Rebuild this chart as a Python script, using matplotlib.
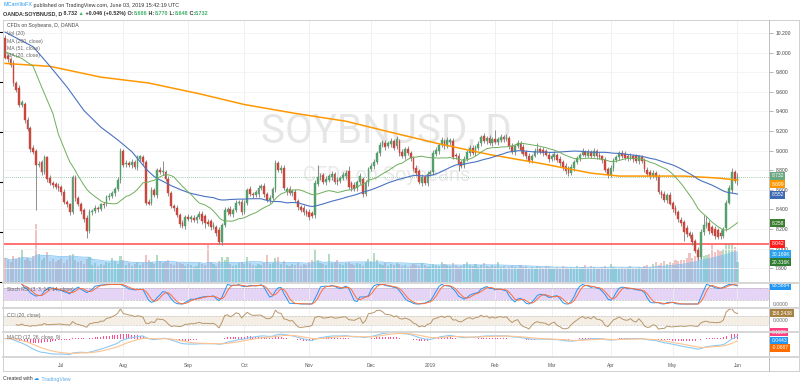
import matplotlib
matplotlib.use("Agg")
import matplotlib.pyplot as plt
import matplotlib.transforms as mtransforms
from matplotlib.lines import Line2D
import numpy as np
import pandas as pd

plt.rcParams['font.family'] = ['Liberation Sans', 'DejaVu Sans']

W, H = 800, 386

# daily candles, OANDA:SOYBNUSD, 2018-06-04 .. 2019-06-03
opens = [
    10.15, 9.97, 9.94, 9.89, 9.69, 9.64, 9.47, 9.48, 9.31, 9.23,
    9.03, 9.00, 8.85, 8.88, 8.78, 8.93, 8.72, 8.67, 8.66, 8.64,
    8.63, 8.58, 8.48, 8.45, 8.37, 8.72, 8.52, 8.45, 8.39, 8.31,
    8.18, 8.37, 8.38, 8.41, 8.40, 8.45, 8.45, 8.53, 8.54, 8.57,
    8.61, 8.70, 9.00, 8.86, 8.87, 8.85, 8.88, 8.83, 8.91, 8.93,
    8.88, 8.48, 8.47, 8.60, 8.55, 8.80, 8.78, 8.78, 8.71, 8.57,
    8.43, 8.41, 8.34, 8.26, 8.23, 8.32, 8.30, 8.31, 8.29, 8.32,
    8.35, 8.33, 8.27, 8.28, 8.22, 8.22, 8.19, 8.07, 8.24, 8.37,
    8.40, 8.35, 8.39, 8.47, 8.48, 8.37, 8.47, 8.61, 8.56, 8.55,
    8.56, 8.62, 8.64, 8.56, 8.50, 8.52, 8.61, 8.87, 8.80, 8.82,
    8.58, 8.61, 8.57, 8.58, 8.49, 8.42, 8.41, 8.38, 8.37, 8.36,
    8.34, 8.66, 8.73, 8.75, 8.68, 8.70, 8.73, 8.76, 8.70, 8.69,
    8.72, 8.74, 8.79, 8.67, 8.65, 8.62, 8.68, 8.71, 8.56, 8.67,
    8.81, 8.84, 8.88, 8.98, 9.06, 9.08, 9.05, 9.07, 9.10, 9.05,
    9.10, 8.99, 8.94, 9.02, 8.98, 8.92, 8.82, 8.79, 8.67, 8.73,
    8.67, 8.76, 8.78, 8.97, 9.00, 9.06, 9.10, 9.05, 9.09, 9.10,
    8.96, 8.95, 8.88, 8.85, 8.91, 8.98, 9.03, 8.98, 9.03, 9.08,
    9.15, 9.10, 9.13, 9.08, 9.12, 9.09, 9.11, 9.14, 9.12, 9.13,
    9.05, 8.99, 9.05, 9.08, 9.04, 8.99, 8.95, 8.90, 8.95, 9.00,
    9.02, 9.01, 9.00, 8.96, 8.91, 8.93, 8.96, 8.91, 8.88, 8.84,
    8.82, 8.77, 8.82, 8.88, 8.92, 8.96, 8.99, 8.95, 8.99, 8.95,
    9.00, 8.96, 8.94, 8.90, 8.81, 8.75, 8.82, 8.90, 8.93, 8.98,
    8.97, 8.95, 8.92, 8.95, 8.94, 8.89, 8.93, 8.90, 8.80, 8.78,
    8.74, 8.77, 8.73, 8.58, 8.56, 8.50, 8.55, 8.47, 8.41, 8.37,
    8.29, 8.27, 8.21, 8.16, 8.14, 8.08, 7.99, 7.91, 8.17, 8.23,
    8.26, 8.22, 8.20, 8.19, 8.16, 8.13, 8.21, 8.47, 8.60, 8.78,
    8.686,
]
closes = [
    9.95, 9.93, 9.87, 9.69, 9.62, 9.47, 9.50, 9.31, 9.22, 9.02,
    8.99, 8.85, 8.86, 8.78, 8.93, 8.71, 8.67, 8.65, 8.63, 8.62,
    8.58, 8.48, 8.45, 8.37, 8.73, 8.52, 8.45, 8.38, 8.30, 8.18,
    8.37, 8.38, 8.41, 8.40, 8.45, 8.44, 8.53, 8.54, 8.57, 8.61,
    8.70, 9.00, 8.85, 8.87, 8.85, 8.88, 8.83, 8.93, 8.94, 8.88,
    8.47, 8.46, 8.60, 8.55, 8.80, 8.78, 8.79, 8.71, 8.57, 8.43,
    8.41, 8.34, 8.25, 8.23, 8.32, 8.30, 8.32, 8.29, 8.32, 8.35,
    8.28, 8.26, 8.25, 8.22, 8.24, 8.16, 8.07, 8.24, 8.39, 8.40,
    8.35, 8.39, 8.47, 8.48, 8.37, 8.47, 8.60, 8.56, 8.55, 8.58,
    8.62, 8.64, 8.56, 8.50, 8.52, 8.61, 8.87, 8.80, 8.82, 8.62,
    8.61, 8.57, 8.59, 8.50, 8.42, 8.39, 8.37, 8.35, 8.32, 8.33,
    8.67, 8.73, 8.74, 8.68, 8.71, 8.74, 8.76, 8.68, 8.68, 8.72,
    8.75, 8.77, 8.63, 8.62, 8.61, 8.68, 8.74, 8.56, 8.67, 8.81,
    8.84, 8.88, 8.98, 9.06, 9.09, 9.04, 9.08, 9.10, 9.03, 9.12,
    8.98, 8.94, 9.02, 8.98, 8.92, 8.81, 8.77, 8.68, 8.73, 8.67,
    8.76, 8.78, 8.98, 9.01, 9.06, 9.11, 9.05, 9.11, 9.11, 8.93,
    8.94, 8.86, 8.84, 8.91, 8.99, 9.03, 8.98, 9.04, 9.07, 9.14,
    9.10, 9.13, 9.08, 9.12, 9.09, 9.12, 9.14, 9.12, 9.14, 9.05,
    8.99, 9.05, 9.08, 9.01, 8.97, 8.94, 8.89, 8.95, 9.00, 9.02,
    8.99, 8.98, 8.96, 8.91, 8.95, 8.97, 8.90, 8.87, 8.82, 8.79,
    8.77, 8.83, 8.88, 8.92, 8.96, 9.00, 8.96, 8.99, 8.95, 9.00,
    8.94, 8.93, 8.90, 8.80, 8.75, 8.82, 8.90, 8.93, 8.98, 8.94,
    8.92, 8.92, 8.95, 8.91, 8.89, 8.94, 8.89, 8.81, 8.76, 8.74,
    8.77, 8.73, 8.58, 8.55, 8.50, 8.55, 8.46, 8.40, 8.36, 8.30,
    8.26, 8.17, 8.15, 8.13, 8.07, 7.98, 7.91, 8.17, 8.24, 8.27,
    8.18, 8.16, 8.13, 8.12, 8.13, 8.20, 8.47, 8.62, 8.78, 8.686,
    8.732,
]
# wick length above / below the body, in cents
wick_up = [
    3, 2, 2, 3, 2, 3, 2, 2, 3, 2, 3, 2, 3, 2, 3, 2, 3, 2, 2, 3,
    2, 3, 2, 2, 2, 3, 2, 3, 2, 3, 3, 2, 3, 2, 2, 3, 2, 3, 2, 2,
    3, 3, 2, 3, 2, 3, 2, 3, 2, 3, 2, 3, 3, 2, 2, 3, 10, 2, 3, 2,
    2, 3, 2, 3, 2, 3, 2, 3, 2, 3, 3, 2, 3, 2, 3, 2, 3, 2, 3, 2,
    3, 2, 3, 2, 3, 3, 2, 3, 2, 2, 3, 2, 3, 2, 3, 2, 3, 2, 3, 3,
    2, 3, 2, 3, 2, 2, 3, 2, 3, 2, 3, 12, 3, 2, 3, 2, 3, 2, 3, 2,
    3, 3, 5, 2, 3, 2, 3, 2, 3, 2, 3, 3, 2, 3, 2, 3, 2, 3, 2, 3,
    2, 3, 2, 3, 2, 2, 3, 2, 3, 2, 3, 2, 3, 3, 2, 3, 2, 3, 2, 3,
    2, 3, 2, 3, 2, 3, 3, 2, 3, 2, 3, 2, 3, 2, 9, 2, 3, 2, 3, 2,
    3, 2, 3, 2, 3, 2, 3, 2, 3, 6, 2, 3, 2, 3, 2, 3, 2, 3, 2, 3,
    2, 3, 2, 3, 2, 3, 2, 3, 2, 3, 2, 3, 2, 3, 2, 3, 2, 3, 2, 3,
    3, 2, 3, 2, 3, 2, 3, 2, 3, 2, 3, 2, 3, 2, 3, 2, 3, 2, 3, 2,
    3, 2, 3, 2, 3, 2, 3, 3, 10, 6, 3, 2, 3, 2, 3, 2, 3, 3, 4, 2, 4,
]
wick_dn = [
    2, 3, 2, 3, 2, 3, 2, 3, 2, 3, 2, 46, 2, 3, 2, 3, 2, 3, 2, 3,
    3, 2, 3, 3, 2, 3, 2, 3, 3, 7, 2, 3, 2, 3, 2, 3, 2, 3, 2, 3,
    2, 3, 2, 3, 2, 3, 2, 3, 2, 3, 3, 2, 3, 2, 3, 2, 3, 2, 3, 2,
    3, 2, 3, 2, 3, 2, 3, 2, 3, 2, 3, 5, 2, 3, 2, 3, 2, 3, 2, 3,
    2, 3, 2, 3, 3, 2, 3, 2, 3, 2, 3, 2, 3, 2, 3, 2, 3, 2, 3, 2,
    3, 2, 3, 2, 3, 2, 3, 2, 3, 2, 3, 2, 3, 2, 3, 2, 3, 2, 3, 2,
    2, 3, 2, 3, 2, 3, 2, 3, 2, 3, 2, 3, 2, 3, 2, 3, 2, 3, 2, 3,
    3, 2, 3, 2, 3, 2, 3, 2, 3, 2, 3, 2, 3, 2, 3, 2, 3, 2, 3, 2,
    3, 7, 2, 3, 2, 3, 2, 3, 2, 3, 2, 3, 2, 3, 2, 3, 2, 3, 2, 3,
    2, 3, 2, 3, 2, 3, 2, 3, 2, 3, 2, 3, 2, 3, 2, 3, 2, 3, 2, 3,
    3, 2, 3, 2, 3, 2, 3, 2, 3, 2, 3, 2, 3, 2, 3, 2, 3, 2, 3, 2,
    2, 3, 2, 3, 2, 3, 2, 3, 2, 3, 2, 3, 2, 3, 2, 3, 2, 3, 2, 3,
    3, 9, 3, 2, 3, 2, 3, 2, 3, 2, 3, 2, 3, 2, 3, 2, 3, 2, 3, 2, 4,
]
# volume in thousands
volume_k = [
    24, 22, 20, 26, 23, 25, 32, 22, 24, 21, 26, 58, 28, 22, 24, 30, 21, 23, 20, 22,
    24, 19, 22, 27, 28, 22, 20, 21, 18, 23, 25, 17, 19, 16, 18, 17, 20, 19, 24, 21,
    18, 26, 22, 17, 19, 16, 18, 20, 17, 19, 27, 22, 20, 18, 27, 21, 19, 20, 22, 18,
    17, 20, 19, 18, 16, 18, 17, 15, 16, 19, 18, 17, 37, 20, 18, 16, 21, 25, 22, 25,
    18, 16, 17, 19, 20, 18, 25, 19, 17, 16, 18, 17, 19, 27, 18, 19, 24, 25, 18, 21,
    17, 16, 18, 17, 19, 16, 18, 17, 20, 22, 32, 22, 19, 18, 17, 28, 19, 20, 22, 18,
    17, 19, 20, 18, 17, 19, 18, 16, 20, 23, 21, 29, 22, 18, 17, 19, 16, 18, 17, 19,
    18, 16, 17, 15, 16, 18, 17, 16, 19, 17, 15, 16, 18, 17, 16, 20, 18, 17, 16, 19,
    17, 15, 16, 18, 20, 17, 16, 18, 15, 17, 19, 16, 15, 17, 16, 20, 15, 16, 14, 15,
    16, 15, 14, 17, 15, 16, 14, 15, 13, 16, 15, 14, 16, 15, 14, 13, 15, 14, 16, 15,
    14, 15, 13, 16, 14, 15, 17, 14, 16, 15, 13, 14, 15, 16, 14, 18, 15, 14, 13, 15,
    14, 15, 16, 14, 13, 15, 14, 16, 17, 15, 18, 20, 17, 19, 21, 18, 20, 19, 22, 21,
    22, 22, 24, 29, 24, 26, 28, 32, 26, 27, 28, 37, 30, 33, 31, 33, 39, 38, 39, 35, 20.316,
]

# MA(200): bar number, value
ma200_bars = [0, 16, 34, 51, 69, 85, 103, 121, 138, 154, 172, 190, 208, 218, 230, 241, 253, 260]
ma200_vals = [9.89, 9.86, 9.75, 9.69, 9.58, 9.47, 9.38, 9.30, 9.18, 9.07, 8.96, 8.87, 8.77, 8.74, 8.74, 8.74, 8.72, 8.699]
# start of MA(51) and MA(20), where the history is off screen
ma51_head_bars = [0, 10, 16, 22, 28, 34, 40, 45]
ma51_head_vals = [10.21, 10.06, 9.86, 9.65, 9.41, 9.24, 9.11, 8.99]
ma20_head_bars = [0, 6, 10, 13, 17]
ma20_head_vals = [10.01, 9.94, 9.86, 9.65, 9.38]

support = 8.042
price_ticks = [7.8, 8.0, 8.2, 8.4, 8.6, 8.8, 9.0, 9.2, 9.4, 9.6, 9.8, 10.0, 10.2]
month_names = ['Jul', 'Aug', 'Sep', 'Oct', 'Nov', 'Dec', '2019', 'Feb', 'Mar', 'Apr', 'May', 'Jun']

UP, DOWN = '#53a06d', '#c9473c'

dates = pd.bdate_range('2018-06-04', '2019-06-03')
bars = np.arange(len(dates))
month_start = [i for i in range(1, len(dates)) if dates[i].month != dates[i - 1].month]

o = np.array(opens)
c = np.array(closes)
hi = np.maximum(o, c) + np.array(wick_up) / 100
lo = np.minimum(o, c) - np.array(wick_dn) / 100
up = c >= o
cs = pd.Series(c)

ma20 = cs.rolling(20).mean()
ma51 = cs.rolling(51).mean()
vol = pd.Series(volume_k)
vol_ma = vol.rolling(20, min_periods=1).mean()

# Stoch RSI (3, 3, 14, 14)
delta = cs.diff().fillna(0)
gain = delta.clip(lower=0).ewm(alpha=1 / 14, adjust=False).mean()
loss = (-delta.clip(upper=0)).ewm(alpha=1 / 14, adjust=False).mean()
rsi = 100 - 100 / (1 + gain / loss)
rlo = rsi.rolling(14, min_periods=1).min()
rhi = rsi.rolling(14, min_periods=1).max()
stoch = (100 * (rsi - rlo) / (rhi - rlo)).replace([np.inf, -np.inf], np.nan)
k_line = stoch.rolling(3, min_periods=1).mean()
d_line = k_line.rolling(3, min_periods=1).mean()

# CCI (20)
sma = cs.rolling(20, min_periods=5).mean()
mad = cs.rolling(20, min_periods=5).apply(lambda x: np.abs(x - x.mean()).mean(), raw=True)
cci = (cs - sma) / (0.015 * mad)

# MACD (12, 26, 9)
macd = cs.ewm(span=12, adjust=False).mean() - cs.ewm(span=26, adjust=False).mean()
signal = macd.ewm(span=9, adjust=False).mean()
hist = macd - signal

fig = plt.figure(figsize=(W / 100, H / 100), dpi=100)
fig.patch.set_facecolor('white')


def pane(top, bottom):
    a = fig.add_axes([3 / W, 1 - bottom / H, 766 / W, (bottom - top) / H])
    a.set_xlim(-0.7, 271.2)
    for s in a.spines.values():
        s.set_visible(False)
    a.set_xticks(month_start)
    a.tick_params(axis='x', length=0, labelbottom=False)
    a.tick_params(axis='y', left=False, labelleft=False, right=False, labelright=False)
    a.grid(axis='x', color='#eeeeee', lw=0.6)
    a.set_axisbelow(True)
    return a


def tag(a, val, text, color, nudge=0.0, trans=None, boxed=True):
    tr = mtransforms.blended_transform_factory(a.transAxes, trans if trans is not None else a.transData)
    tr = mtransforms.offset_copy(tr, fig=fig, x=0, y=-nudge, units='dots')
    kw = dict(transform=tr, ha='left', va='center', fontsize=3.6, clip_on=False, zorder=20)
    if boxed:
        a.text(1.003, val, text, color='white',
               bbox=dict(boxstyle='square,pad=0.3', fc=color, ec='none'), **kw)
    else:
        a.text(1.005, val, text, color=color, **kw)


# ---- price pane ----
vax = pane(20, 282)
ax = vax.twinx()
for s in ax.spines.values():
    s.set_visible(False)
ax.set_xlim(-0.7, 271.2)
ax.set_ylim(7.659, 10.333)
vax.set_ylim(0, 262)
ax.set_yticks(price_ticks)
ax.set_yticklabels([f'{t:.3f}' for t in price_ticks])
ax.tick_params(axis='y', right=True, labelright=True, length=3, width=0.5,
               color='#9a9a9a', labelsize=3.6, labelcolor='#444444', pad=1.5)
vax.grid(axis='x', color='#eeeeee', lw=0.6)

for t in price_ticks:
    ax.axhline(t, color='#f2f2f2', lw=0.6, zorder=0)

vax.bar(bars, volume_k, width=0.75, color=np.where(up, '#b3dcc0', '#f0c3c3'), lw=0, zorder=1)
vax.fill_between(bars, 0, vol_ma, color='#6ab8f2', alpha=0.5, lw=0, zorder=2)
vax.plot(bars, vol_ma, color='#79bff2', lw=0.5, zorder=2)

ax.text(0.501, 0.576, 'SOYBNUSD, D', transform=ax.transAxes, ha='center', va='center',
        fontsize=29, color='#e6e6e6', family=['Roboto', 'DejaVu Sans'], zorder=0)
ax.text(0.501, 0.408, 'CFDs on Soybeans', transform=ax.transAxes, ha='center', va='center',
        fontsize=14.5, color='#e9e9e9', family=['Roboto', 'DejaVu Sans'], zorder=0)

ax.axhline(support, color='#ff5a5a', lw=1.2, zorder=2)
ax.axhline(closes[-1], color='#7dbb94', lw=0.6, ls=(0, (1, 1.5)), zorder=2)

cols = np.where(up, UP, DOWN)
ax.vlines(bars, lo, hi, colors='#7c7c7c', lw=0.6, zorder=3)
ax.bar(bars, np.maximum(np.abs(c - o), 0.006), bottom=np.minimum(o, c), width=0.62,
       color=cols, edgecolor=cols, lw=0.3, zorder=4)

ax.plot(ma200_bars, ma200_vals, color='#ff9800', lw=1.1, zorder=5)
ax.plot(ma51_head_bars + list(bars[50:]), ma51_head_vals + list(ma51[50:]), color='#4a72c0', lw=0.8, zorder=5)
ax.plot(ma20_head_bars + list(bars[19:]), ma20_head_vals + list(ma20[19:]), color='#6fae5c', lw=0.7, zorder=5)

tag(ax, 8.732, '8.732', '#6aa882', nudge=-1.0)
tag(ax, 8.699, '8.699', '#ff9800', nudge=4.0)
tag(ax, 8.552, '8.552', '#3e69b3')
tag(ax, 8.258, '8.258', '#3a7d2e')
tag(ax, 8.042, '8.042', '#ff1e1e', nudge=-0.5)
tag(ax, 30.169, '30.169K', '#2ba3ee', nudge=2.5, trans=vax.transData)
tag(ax, 20.316, '20.316K', '#2e7d32', nudge=0.5, trans=vax.transData)

# ---- Stoch RSI ----
sax = pane(283.5, 307)
sax.set_ylim(-15.3, 104.6)
sax.axhspan(20, 80, color='#e6d4f7', lw=0, zorder=0)
sax.axhline(80, color='#a8a8a8', lw=0.4, ls='--')
sax.axhline(20, color='#a8a8a8', lw=0.4, ls='--')
sax.plot(bars, k_line, color='#2196f3', lw=0.7)
sax.plot(bars, d_line, color='#ff6d3a', lw=0.7)
tag(sax, 93.5884, '93.5884', '#2196f3')
tag(sax, 0, '0.0000', '#666666', boxed=False)

# ---- CCI ----
cax = pane(308.5, 331)
cax.set_ylim(-249, 274)
cax.axhspan(-100, 100, color='#f4eee4', lw=0, zorder=0)
cax.axhline(100, color='#bdbdbd', lw=0.4, ls='--')
cax.axhline(-100, color='#bdbdbd', lw=0.4, ls='--')
cax.plot(bars, cci, color='#b8966a', lw=0.7)
tag(cax, 158.2438, '158.2438', '#a88240')
tag(cax, 0, '0.0000', '#666666', boxed=False)

# ---- MACD ----
max_ = pane(332.5, 356.5)
max_.set_ylim(-0.37, 0.125)
max_.bar(bars, hist, width=0.35, color='#ff4d8d', lw=0)
max_.plot(bars, macd, color='#8ccaf5', lw=0.8)
max_.plot(bars, signal, color='#ffc38f', lw=0.8)
tag(max_, 0.1129, '0.1129', '#ff4081', nudge=-1.0)
tag(max_, 0.0443, '0.0443', '#2196f3', nudge=4.5)
tag(max_, -0.0687, '-0.0687', '#ff6d00', nudge=6.0)
max_.set_xticklabels(month_names)
max_.tick_params(axis='x', labelbottom=True, labelsize=3.5, labelcolor='#555555', pad=4.5)

# ---- frame & separators ----
def hline(y, x0=3, x1=799, color='#d0d0d0', lw=0.7):
    fig.add_artist(Line2D([x0 / W, x1 / W], [1 - y / H, 1 - y / H], color=color, lw=lw))


def vline(x, y0=20, y1=371, color='#d0d0d0', lw=0.7):
    fig.add_artist(Line2D([x / W, x / W], [1 - y0 / H, 1 - y1 / H], color=color, lw=lw))


hline(20)
hline(371)
vline(3)
vline(769, color='#bdbdbd')
vline(799)
for y in (282.7, 307.8, 331.8, 356.9):
    hline(y, color='#d6d6d6', lw=1.4)

# ---- texts ----
renderer = fig.canvas.get_renderer()


def runs(x_px, y_px, parts, size, weight='normal'):
    x = x_px
    for s, col in parts:
        t = fig.text(x / W, 1 - y_px / H, s, color=col, fontsize=size, fontweight=weight,
                     ha='left', va='center')
        x += t.get_window_extent(renderer=renderer).width


DARK, GREEN = '#333333', '#3fb068'
runs(3, 5, [('MCarrilloFX', '#2196f3'),
            (' published on TradingView.com, June 03, 2019 15:42:19 UTC', DARK)], 3.9)
runs(3, 13.5, [('OANDA:SOYBNUSD, D', DARK), (' 8.732', DARK), (' ▲', GREEN),
               (' +0.046 (+0.52%)', DARK), (' O:', DARK), ('8.686', GREEN),
               (' H:', DARK), ('8.770', GREEN), (' L:', DARK), ('8.648', GREEN),
               (' C:', DARK), ('8.732', GREEN)], 3.9, weight='bold')

legend = ['CFDs on Soybeans, D, OANDA', 'Vol (20)', 'MA (200, close)', 'MA (51, close)', 'MA (20, close)']
for j, s in enumerate(legend):
    fig.text(7 / W, 1 - (26 + 7.5 * j) / H, s, fontsize=3.7,
             color='#444444' if j == 0 else '#666666', va='center', ha='left')

fig.text(7 / W, 1 - 289 / H, 'Stoch RSI (3, 3, 14, 14, close)', fontsize=3.6, color='#666666', va='center')
fig.text(7 / W, 1 - 316 / H, 'CCI (20, close)', fontsize=3.6, color='#666666', va='center')
fig.text(7 / W, 1 - 338 / H, 'MACD (12, 26, close, 9)', fontsize=3.6, color='#666666', va='center')

runs(3, 379, [('Created with ', DARK), ('☁', '#2196f3'), (' TradingView', '#5aa9e6')], 3.8)

fig.savefig('out.png', dpi=100, facecolor='white')
